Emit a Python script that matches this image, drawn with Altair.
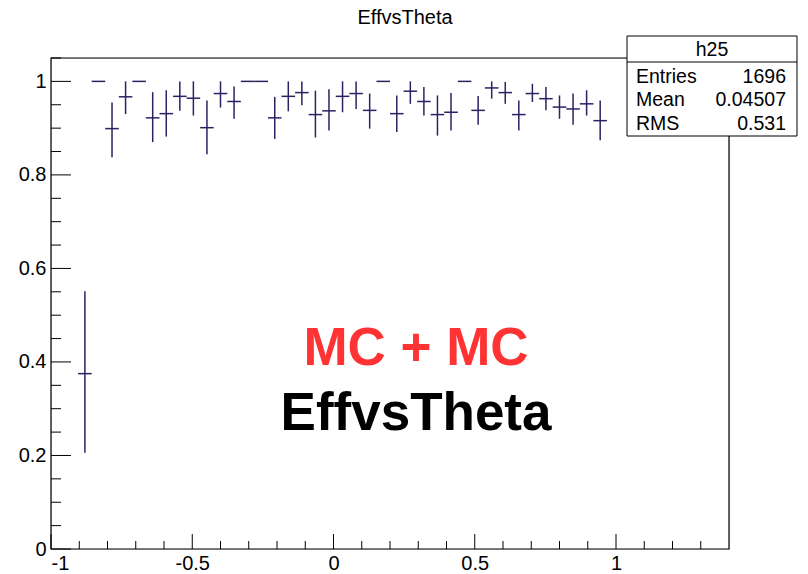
import altair as alt
import pandas as pd

# Efficiency vs theta, 50 bins over [-1, 1.4] (bin width 0.048)
bin_width = 0.048
bin_centers = [-0.880, -0.832, -0.784, -0.736, -0.688, -0.640, -0.592, -0.544,
               -0.496, -0.448, -0.400, -0.352, -0.304, -0.256, -0.208, -0.160,
               -0.112, -0.064, -0.016, 0.032, 0.080, 0.128, 0.176, 0.224,
               0.272, 0.320, 0.368, 0.416, 0.464, 0.512, 0.560, 0.608,
               0.656, 0.704, 0.752, 0.800, 0.848, 0.896, 0.944]
eff = [0.375, 1.000, 0.899, 0.967, 1.000, 0.922, 0.931, 0.968,
       0.964, 0.901, 0.974, 0.957, 1.000, 1.000, 0.922, 0.968,
       0.976, 0.929, 0.937, 0.968, 0.974, 0.938, 1.000, 0.931,
       0.979, 0.957, 0.929, 0.934, 1.000, 0.938, 0.986, 0.976,
       0.929, 0.974, 0.963, 0.945, 0.941, 0.952, 0.916]
eff_lo = [0.206, 1.000, 0.838, 0.930, 1.000, 0.870, 0.882, 0.937,
          0.927, 0.844, 0.944, 0.920, 1.000, 1.000, 0.877, 0.936,
          0.949, 0.880, 0.895, 0.934, 0.941, 0.899, 1.000, 0.892,
          0.952, 0.927, 0.884, 0.895, 1.000, 0.907, 0.963, 0.952,
          0.895, 0.956, 0.938, 0.920, 0.907, 0.927, 0.874]
eff_hi = [0.551, 1.000, 0.955, 1.000, 1.000, 0.977, 0.981, 1.000,
          1.000, 0.959, 1.000, 0.989, 1.000, 1.000, 0.967, 1.000,
          1.000, 0.980, 0.983, 1.000, 1.000, 0.974, 1.000, 0.970,
          1.000, 0.988, 0.970, 0.975, 1.000, 0.969, 1.000, 0.999,
          0.959, 0.995, 0.988, 0.970, 0.974, 0.981, 0.959]

# Axis ticks and labels
x_labels = [-1, -0.5, 0, 0.5, 1]
x_minor = [-0.9, -0.8, -0.7, -0.6, -0.4, -0.3, -0.2, -0.1, 0.1, 0.2, 0.3, 0.4,
           0.6, 0.7, 0.8, 0.9, 1.1, 1.2, 1.3]
y_labels = [0, 0.2, 0.4, 0.6, 0.8, 1]
y_minor = [0.05, 0.1, 0.15, 0.25, 0.3, 0.35, 0.45, 0.5, 0.55, 0.65, 0.7, 0.75,
           0.85, 0.9, 0.95, 1.05]

# Statistics box
stats_title = "h25"
stats_names = ["Entries", "Mean", "RMS"]
stats_values = ["1696", "0.04507", "0.531"]

W, H = 678, 491
FONT = "Liberation Sans"
MARK = "#2a2263"

df = pd.DataFrame({"x": bin_centers, "eff": eff, "lo": eff_lo, "hi": eff_hi})
df["x0"] = df["x"] - bin_width / 2
df["x1"] = df["x"] + bin_width / 2

xs = alt.Scale(domain=[-1, 1.4], nice=False, zero=False)
ys = alt.Scale(domain=[0, 1.05], nice=False, zero=False)

x_axis = alt.Axis(values=x_labels, ticks=False, domain=False, grid=False,
                  labelFont=FONT, labelFontSize=20, labelColor="black",
                  labelPadding=4, labelExpr="toString(datum.value)", title=None)
y_axis = alt.Axis(values=y_labels, ticks=False, domain=False, grid=False,
                  labelFont=FONT, labelFontSize=20, labelColor="black",
                  labelPadding=5, labelExpr="toString(datum.value)", title=None)

base = alt.Chart(df)

hbars = base.mark_rule(color=MARK, strokeWidth=1.5).encode(
    x=alt.X("x0:Q", scale=xs, axis=x_axis),
    x2="x1:Q",
    y=alt.Y("eff:Q", scale=ys, axis=y_axis),
)
vbars = base.transform_filter("datum.hi > datum.lo").mark_rule(
    color=MARK, strokeWidth=1.5).encode(
    x=alt.X("x:Q", scale=xs),
    y=alt.Y("lo:Q", scale=ys),
    y2="hi:Q",
)

one = pd.DataFrame({"k": [0]})

frame = alt.Chart(one).mark_rect(fill=None, stroke="black", strokeWidth=1.2).encode(
    x=alt.value(0), x2=alt.value(W), y=alt.value(0), y2=alt.value(H))

y_major_t = alt.Chart(pd.DataFrame({"v": y_labels})).mark_rule(
    color="black", strokeWidth=1).encode(
    y=alt.Y("v:Q", scale=ys), x=alt.value(0), x2=alt.value(20))
y_minor_t = alt.Chart(pd.DataFrame({"v": y_minor})).mark_rule(
    color="black", strokeWidth=1).encode(
    y=alt.Y("v:Q", scale=ys), x=alt.value(0), x2=alt.value(10))
x_major_t = alt.Chart(pd.DataFrame({"v": x_labels})).mark_rule(
    color="black", strokeWidth=1).encode(
    x=alt.X("v:Q", scale=xs), y=alt.value(H), y2=alt.value(H - 15))
x_minor_t = alt.Chart(pd.DataFrame({"v": x_minor})).mark_rule(
    color="black", strokeWidth=1).encode(
    x=alt.X("v:Q", scale=xs), y=alt.value(H), y2=alt.value(H - 8))

title = alt.Chart(one).mark_text(text="EffvsTheta", font=FONT, fontSize=20,
                                 align="center", baseline="middle", color="black").encode(
    x=alt.value(354), y=alt.value(-40))

# stats box (covers the top-right corner of the frame)
bx0, bx1, by0, by1 = 576, 746, -22, 78
box = alt.Chart(one).mark_rect(fill="white", stroke="black", strokeWidth=1).encode(
    x=alt.value(bx0), x2=alt.value(bx1), y=alt.value(by0), y2=alt.value(by1))
box_sep = alt.Chart(one).mark_rule(color="black", strokeWidth=1).encode(
    x=alt.value(bx0), x2=alt.value(bx1), y=alt.value(4))
box_title = alt.Chart(one).mark_text(text=stats_title, font=FONT, fontSize=19.5,
                                     align="center", baseline="middle").encode(
    x=alt.value((bx0 + bx1) / 2), y=alt.value(-8))

stats_df = pd.DataFrame({"name": stats_names, "val": stats_values, "row": [0, 1, 2]})
stats_df["ypos"] = 18.5 + 23.5 * stats_df["row"]
box_names = alt.Chart(stats_df).mark_text(font=FONT, fontSize=19.5, align="left",
                                          baseline="middle").encode(
    x=alt.value(bx0 + 9), y=alt.Y("ypos:Q", scale=None), text="name:N")
box_vals = alt.Chart(stats_df).mark_text(font=FONT, fontSize=19.5, align="right",
                                         baseline="middle").encode(
    x=alt.value(bx1 - 11), y=alt.Y("ypos:Q", scale=None), text="val:N")

big1 = alt.Chart(one).mark_text(text="MC + MC", font=FONT, fontSize=53,
                                fontWeight="bold", color="#ff3333",
                                align="center", baseline="alphabetic").encode(
    x=alt.value(365), y=alt.value(307))
big2 = alt.Chart(one).mark_text(text="EffvsTheta", font=FONT, fontSize=53,
                                fontWeight="bold", color="black",
                                align="center", baseline="alphabetic").encode(
    x=alt.value(365), y=alt.value(372))

chart = alt.layer(
    hbars, vbars, frame, y_major_t, y_minor_t, x_major_t, x_minor_t,
    big1, big2, title, box, box_sep, box_title, box_names, box_vals,
).properties(
    width=W, height=H,
    autosize=alt.AutoSizeParams(type="none"),
    padding={"left": 51, "top": 58, "right": 79, "bottom": 25},
).configure_view(stroke=None).configure(background="white")

chart.save("out.html", embed_options={"renderer": "svg", "actions": False})
